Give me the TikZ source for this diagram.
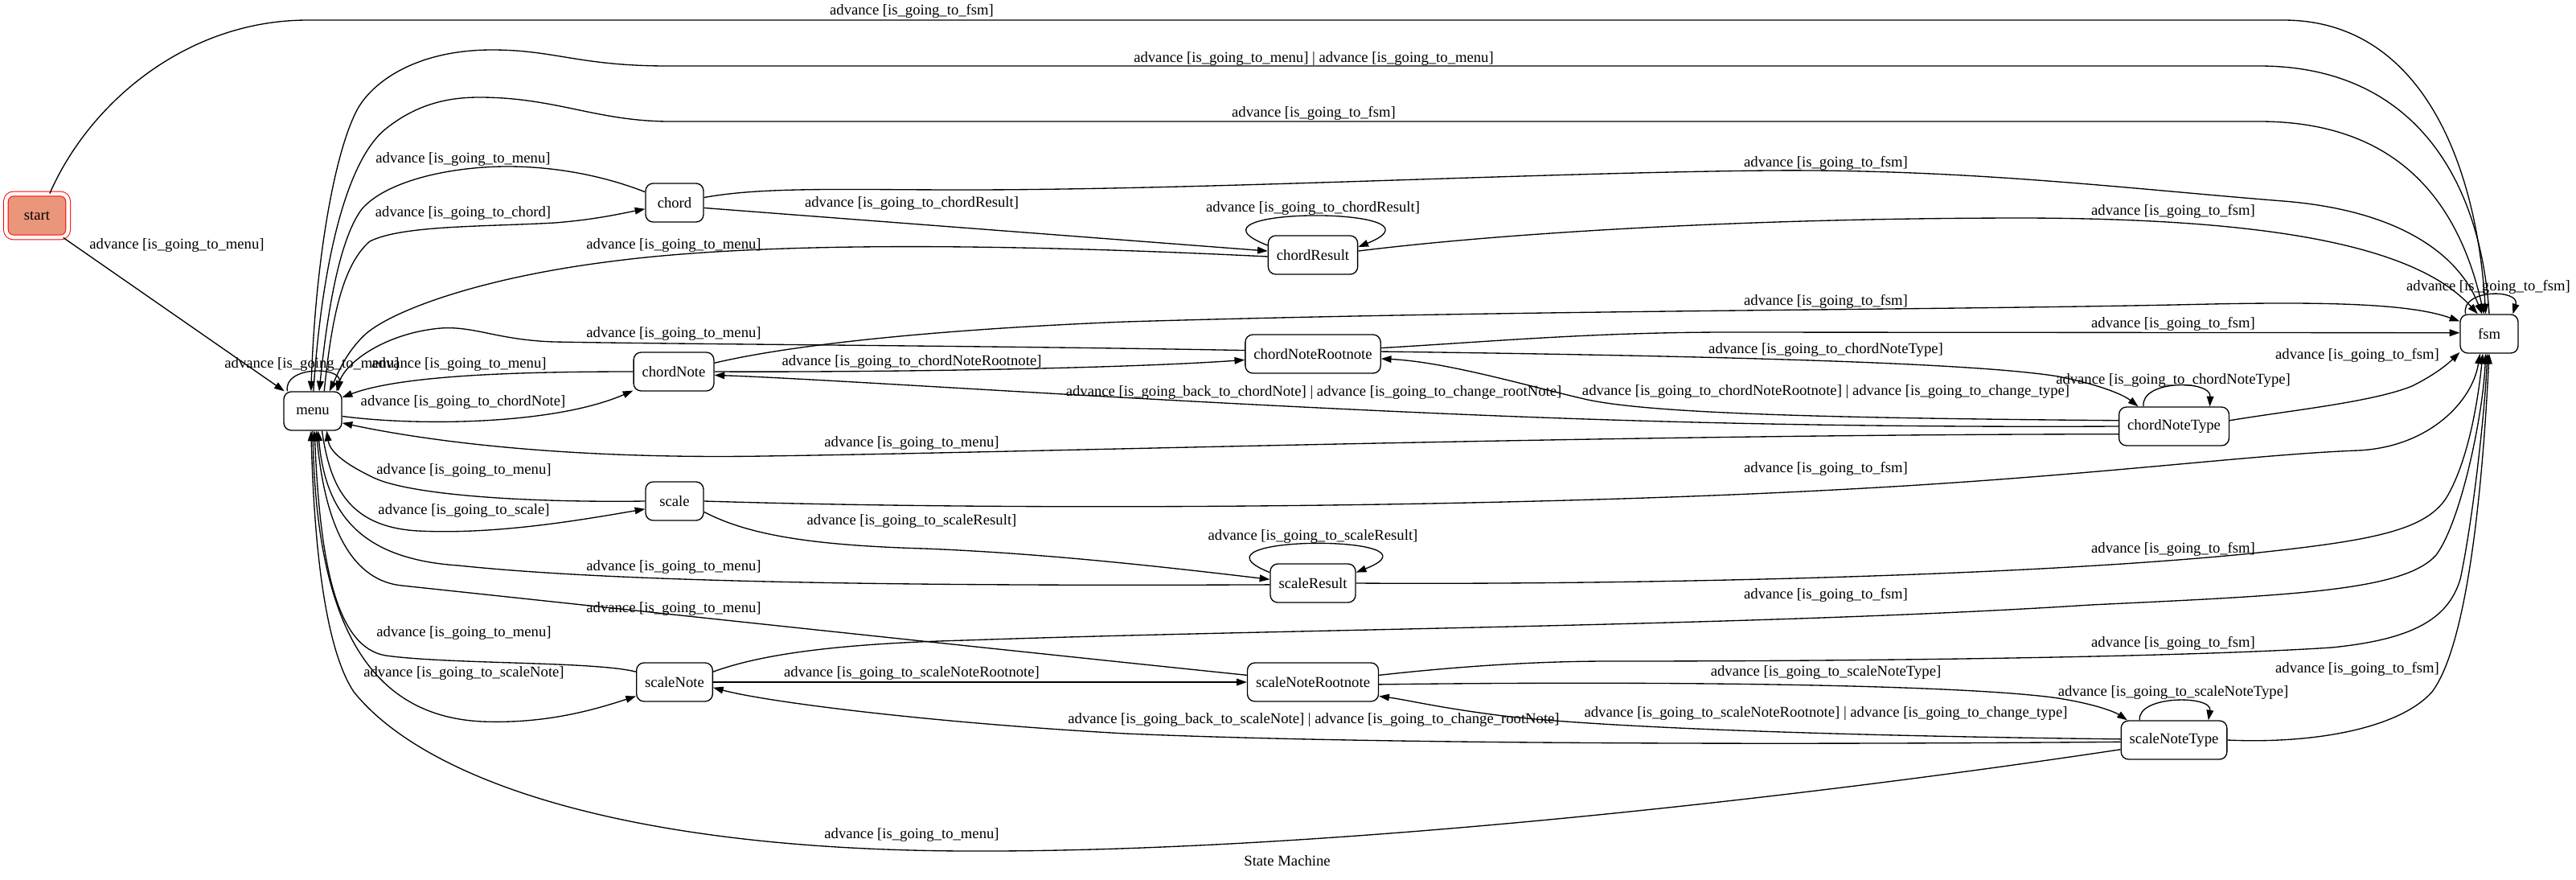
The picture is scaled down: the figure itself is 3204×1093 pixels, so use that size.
\documentclass[tikz,border=0pt]{standalone}
\usepackage{fontspec}
\setmainfont{Liberation Serif}
\usetikzlibrary{arrows.meta}

\definecolor{startfill}{RGB}{233,150,122}
\definecolor{startline}{RGB}{255,0,0}

\tikzset{
  state/.style={draw, line width=1pt, rounded corners=7pt, minimum width=54pt,
    minimum height=36pt, inner xsep=7.9pt, inner ysep=2pt},
  startstate/.style={draw=startline, fill=startfill, line width=0.75pt, rounded corners=7pt,
    double=white, double distance=3.5pt, minimum width=58pt, minimum height=40.5pt},
  edge/.style={line width=1pt, -{Triangle[length=9.5pt,width=6.5pt]}},
  lbl/.style={inner sep=0pt, anchor=center}
}

\begin{document}
\begin{tikzpicture}[x=0.75pt,y=0.75pt,yscale=-1,xscale=1,font=\fontsize{14}{16}\selectfont]
\useasboundingbox (0,0) rectangle (3204,1093);

%States
\node[startstate] (start) at (46,268) {start};
\node[state] (menu) at (389,511) {menu};
\node[state] (chord) at (839,252) {chord};
\node[state] (chordResult) at (1633,317) {chordResult};
\node[state] (chordNote) at (838,462) {chordNote};
\node[state] (chordNoteRootnote) at (1633,440) {chordNoteRootnote};
\node[state] (chordNoteType) at (2704,530) {chordNoteType};
\node[state] (fsm) at (3096,415) {fsm};
\node[state] (scale) at (839,623) {scale};
\node[state] (scaleResult) at (1633,725) {scaleResult};
\node[state] (scaleNote) at (839,848) {scaleNote};
\node[state] (scaleNoteRootnote) at (1633,848) {scaleNoteRootnote};
\node[state] (scaleNoteType) at (2704,920) {scaleNoteType};

%Edges: start, menu, fsm
\draw[edge] (start.60) .. controls (110,130) and (230,25) .. (383,25) -- (2840,25) .. controls (3010,25) and (3080,200) .. (fsm.100);
\draw[edge] (start.-40) -- (menu.145);
\draw[edge] (fsm.90) .. controls (3085,220) and (3000,82) .. (2810,82) -- (830,82) .. controls (720,82) and (690,62) .. (612,62) .. controls (520,62) and (465,100) .. (445,135) .. controls (415,190) and (392,330) .. (menu.95);
\draw[edge] (menu.88) .. controls (400,330) and (430,200) .. (480,160) .. controls (520,128) and (560,121) .. (596,121) .. controls (690,121) and (740,150) .. (830,151) -- (2810,151) .. controls (2990,151) and (3060,260) .. (fsm.105);
\draw[edge] (menu.142) .. controls (352,455) and (425,455) .. (menu.38);
\draw[edge] (fsm.140) .. controls (3060,359) and (3135,359) .. (fsm.40);

%Edges: chord
\draw[edge] (chord.160) .. controls (760,222) and (700,207) .. (631,207) .. controls (560,207) and (480,225) .. (450,260) .. controls (420,300) and (406,400) .. (menu.72);
\draw[edge] (menu.60) .. controls (412,400) and (425,330) .. (460,300) .. controls (500,280) and (600,282) .. (690,277) .. controls (740,273) and (770,266) .. (chord.192);
\draw[edge] (chord.10) .. controls (950,232) and (1050,236) .. (1200,236) .. controls (1500,236) and (1900,215) .. (2200,212) .. controls (2450,210) and (2650,235) .. (2840,250) .. controls (2990,262) and (3060,320) .. (fsm.110);
\draw[edge] (chord.-10) -- (chordResult.175);
\draw[edge] (chordResult.168) .. controls (1450,256) and (1815,256) .. (chordResult.10);
\draw[edge] (chordResult.5) .. controls (1850,292) and (2150,271) .. (2520,271) .. controls (2800,272) and (3000,300) .. (fsm.120);
\draw[edge] (chordResult.182) .. controls (1250,303) and (950,300) .. (760,325) .. controls (600,345) and (490,385) .. (455,415) .. controls (430,438) and (420,465) .. (menu.50);

%Edges: chordNote
\draw[edge] (chordNote.west) .. controls (650,462) and (500,466) .. (menu.25);
\draw[edge] (menu.-10) .. controls (520,530) and (690,528) .. (chordNote.205);
\draw[edge] (chordNoteRootnote.177) .. controls (1250,430) and (850,428) .. (690,425) .. controls (620,423) and (590,405) .. (548,408) .. controls (480,414) and (430,450) .. (menu.40);
\draw[edge] (chordNote.east) .. controls (1100,463) and (1400,458) .. (chordNoteRootnote.185);
\draw[edge] (chordNote.12) .. controls (1000,425) and (1200,408) .. (1400,400) .. controls (1900,385) and (2400,386) .. (2750,378) .. controls (2900,375) and (3000,378) .. (fsm.157);
\draw[edge] (chordNoteRootnote.5) .. controls (1850,425) and (1980,413) .. (2150,413) -- (fsm.178);
\draw[edge] (chordNoteRootnote.2) .. controls (2100,442) and (2450,450) .. (2560,468) .. controls (2610,478) and (2640,490) .. (chordNoteType.151);
\draw[edge] (chordNoteType.147) .. controls (2662,472) and (2750,472) .. (chordNoteType.29);
\draw[edge] (chordNoteType.174) .. controls (2300,520) and (2060,515) .. (1975,497) .. controls (1900,480) and (1800,450) .. (chordNoteRootnote.-4);
\draw[edge] (chordNoteType.west) .. controls (2200,532) and (1900,520) .. (1600,505) .. controls (1300,490) and (1000,470) .. (chordNote.-5);
\draw[edge] (chordNoteType.188) .. controls (2000,540) and (1300,562) .. (950,567) .. controls (700,571) and (530,548) .. (menu.-22);
\draw[edge] (chordNoteType.6) .. controls (2850,510) and (2950,500) .. (3000,480) .. controls (3030,465) and (3045,452) .. (fsm.212);

%Edges: scale
\draw[edge] (scale.west) .. controls (650,625) and (510,615) .. (465,594) .. controls (425,575) and (410,560) .. (menu.-55);
\draw[edge] (menu.-65) .. controls (410,600) and (430,655) .. (520,660) .. controls (620,665) and (730,645) .. (scale.195);
\draw[edge] (scale.east) .. controls (1300,636) and (1900,630) .. (2300,608) .. controls (2600,592) and (2800,565) .. (2933,560) .. controls (3020,556) and (3075,500) .. (fsm.-115);
\draw[edge] (scale.-20) .. controls (930,665) and (1010,678) .. (1150,682) .. controls (1300,688) and (1450,705) .. (scaleResult.175);
\draw[edge] (scaleResult.166) .. controls (1460,664) and (1808,664) .. (scaleResult.14);
\draw[edge] (scaleResult.182) .. controls (1100,729) and (760,723) .. (570,703) .. controls (450,695) and (405,640) .. (menu.-75);
\draw[edge] (scaleResult.east) .. controls (2000,727) and (2500,718) .. (2800,688) .. controls (2950,672) and (3020,660) .. (3045,615) .. controls (3070,570) and (3082,500) .. (fsm.-108);

%Edges: scaleNote
\draw[edge] (scaleNoteRootnote.174) .. controls (1200,803) and (800,760) .. (500,728) .. controls (440,722) and (405,660) .. (menu.-80);
\draw[edge] (scaleNote.165) .. controls (740,822) and (560,826) .. (480,815) .. controls (418,805) and (398,700) .. (menu.-85);
\draw[edge] (menu.-90) .. controls (392,760) and (450,890) .. (600,897) .. controls (680,900) and (740,882) .. (scaleNote.200);
\draw[edge] (scaleNote.east) -- (scaleNoteRootnote.west);
\draw[edge] (scaleNote.15) .. controls (950,812) and (1050,800) .. (1200,796) .. controls (1600,782) and (2200,778) .. (2600,752) .. controls (2850,740) and (2990,735) .. (3030,690) .. controls (3060,650) and (3088,520) .. (fsm.-100);
\draw[edge] (scaleNoteRootnote.6) .. controls (1800,830) and (1900,822) .. (2000,822) .. controls (2400,822) and (2750,815) .. (2900,805) .. controls (3000,795) and (3045,770) .. (3060,720) .. controls (3075,650) and (3090,520) .. (fsm.-95);
\draw[edge] (scaleNoteRootnote.-2) .. controls (2100,846) and (2450,852) .. (2560,868) .. controls (2610,876) and (2632,886) .. (scaleNoteType.157);
\draw[edge] (scaleNoteType.150) .. controls (2658,864) and (2752,864) .. (scaleNoteType.30);
\draw[edge] (scaleNoteType.179) .. controls (2300,915) and (2000,905) .. (1870,890) .. controls (1790,880) and (1750,870) .. (scaleNoteRootnote.-12);
\draw[edge] (scaleNoteType.182) .. controls (2200,926) and (1700,925) .. (1400,912) .. controls (1150,898) and (950,872) .. (scaleNote.-8);
\draw[edge] (scaleNoteType.190) .. controls (2250,990) and (1650,1060) .. (1200,1058) .. controls (750,1056) and (520,960) .. (440,860) .. controls (400,800) and (390,650) .. (menu.-95);
\draw[edge] (scaleNoteType.east) .. controls (2880,925) and (2985,905) .. (3025,860) .. controls (3070,800) and (3088,600) .. (fsm.-90);

% Text Node
\node[lbl] (lStartFsm) at (1134,14) {advance [is\_going\_to\_fsm]};
\node[lbl] (lFsmMenu) at (1634,73) {advance [is\_going\_to\_menu] | advance [is\_going\_to\_menu]};
\node[lbl] (lMenuFsm) at (1634,141) {advance [is\_going\_to\_fsm]};
\node[lbl] (lChordMenu) at (576,198) {advance [is\_going\_to\_menu]};
\node[lbl] (lChordFsm) at (2271,203) {advance [is\_going\_to\_fsm]};
\node[lbl] (lChordResult) at (1134,253) {advance [is\_going\_to\_chordResult]};
\node[lbl] (lChordResultLoop) at (1633,259) {advance [is\_going\_to\_chordResult]};
\node[lbl] (lMenuChord) at (576,265) {advance [is\_going\_to\_chord]};
\node[lbl] (lChordResultFsm) at (2703,263) {advance [is\_going\_to\_fsm]};
\node[lbl] (lChordResultMenu) at (838,305) {advance [is\_going\_to\_menu]};
\node[lbl] (lStartMenu) at (220,305) {advance [is\_going\_to\_menu]};
\node[lbl] (lFsmLoop) at (3095,357) {advance [is\_going\_to\_fsm]};
\node[lbl] (lChordNoteFsm) at (2271,375) {advance [is\_going\_to\_fsm]};
\node[lbl] (lRootFsm) at (2703,403) {advance [is\_going\_to\_fsm]};
\node[lbl] (lRootMenu) at (838,415) {advance [is\_going\_to\_menu]};
\node[lbl] (lChordNoteRoot) at (1134,450) {advance [is\_going\_to\_chordNoteRootnote]};
\node[lbl] (lRootType) at (2271,435) {advance [is\_going\_to\_chordNoteType]};
\node[lbl] (lMenuLoop) at (388,453) {advance [is\_going\_to\_menu]};
\node[lbl] (lChordNoteMenu) at (571,453) {advance [is\_going\_to\_menu]};
\node[lbl] (lTypeLoop) at (2703,473) {advance [is\_going\_to\_chordNoteType]};
\node[lbl] (lTypeFsm) at (2932,442) {advance [is\_going\_to\_fsm]};
\node[lbl] (lMenuChordNote) at (576,500) {advance [is\_going\_to\_chordNote]};
\node[lbl] (lTypeChordNote) at (1634,488) {advance [is\_going\_back\_to\_chordNote] | advance [is\_going\_to\_change\_rootNote]};
\node[lbl] (lTypeRoot) at (2271,487) {advance [is\_going\_to\_chordNoteRootnote] | advance [is\_going\_to\_change\_type]};
\node[lbl] (lTypeMenu) at (1134,551) {advance [is\_going\_to\_menu]};
\node[lbl] (lScaleMenu) at (577,585) {advance [is\_going\_to\_menu]};
\node[lbl] (lScaleFsm) at (2271,583) {advance [is\_going\_to\_fsm]};
\node[lbl] (lMenuScale) at (577,635) {advance [is\_going\_to\_scale]};
\node[lbl] (lScaleResult) at (1134,648) {advance [is\_going\_to\_scaleResult]};
\node[lbl] (lScaleResultLoop) at (1633,667) {advance [is\_going\_to\_scaleResult]};
\node[lbl] (lScaleResultMenu) at (838,705) {advance [is\_going\_to\_menu]};
\node[lbl] (lScaleResultFsm) at (2703,683) {advance [is\_going\_to\_fsm]};
\node[lbl] (lSRootMenu) at (838,757) {advance [is\_going\_to\_menu]};
\node[lbl] (lScaleNoteFsm) at (2271,740) {advance [is\_going\_to\_fsm]};
\node[lbl] (lScaleNoteMenu) at (577,787) {advance [is\_going\_to\_menu]};
\node[lbl] (lMenuScaleNote) at (577,837) {advance [is\_going\_to\_scaleNote]};
\node[lbl] (lScaleNoteRoot) at (1134,837) {advance [is\_going\_to\_scaleNoteRootnote]};
\node[lbl] (lSRootFsm) at (2703,800) {advance [is\_going\_to\_fsm]};
\node[lbl] (lSRootType) at (2271,836) {advance [is\_going\_to\_scaleNoteType]};
\node[lbl] (lSTypeFsm) at (2932,832) {advance [is\_going\_to\_fsm]};
\node[lbl] (lSTypeLoop) at (2703,861) {advance [is\_going\_to\_scaleNoteType]};
\node[lbl] (lSTypeScaleNote) at (1634,895) {advance [is\_going\_back\_to\_scaleNote] | advance [is\_going\_to\_change\_rootNote]};
\node[lbl] (lSTypeRoot) at (2271,887) {advance [is\_going\_to\_scaleNoteRootnote] | advance [is\_going\_to\_change\_type]};
\node[lbl] (lSTypeMenu) at (1134,1038) {advance [is\_going\_to\_menu]};
\node[lbl] (title) at (1601,1070) {State Machine};

\end{tikzpicture}
\end{document}
